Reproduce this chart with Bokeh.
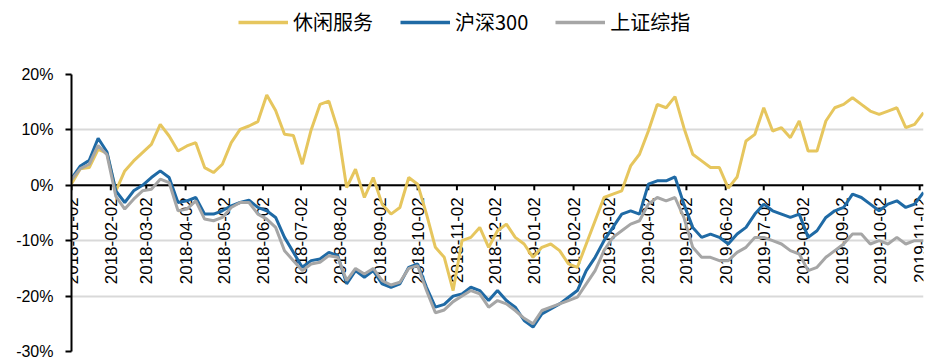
import numpy as np
import pandas as pd
from bokeh.plotting import figure
from bokeh.layouts import column
from bokeh.models import Range1d, Legend, LegendItem, Span, FixedTicker, PrintfTickFormatter
from bokeh.core.properties import value
from bokeh.embed import file_html
from bokeh.resources import INLINE

# weekly observation dates (2018-01-02 .. 2019-11-05)
dates = pd.date_range("2018-01-02", periods=97, freq="7D")

# cumulative return, %
leisure = [0.3, 3.0, 3.2, 6.5, 5.8, -1.0, 2.6, 4.4, 5.9, 7.4,
           11.0, 8.9, 6.2, 7.1, 7.7, 3.2, 2.3, 3.8, 7.7, 10.1,
           10.7, 11.5, 16.3, 13.5, 9.2, 9.0, 3.8, 10.0, 14.6, 15.2,
           10.1, -0.4, 2.9, -2.2, 1.4, -3.4, -5.2, -4.0, 1.4, 0.2,
           -5.2, -11.2, -13.0, -19.0, -10.0, -9.4, -7.6, -11.2, -8.2, -7.0,
           -9.4, -10.6, -13.0, -11.2, -10.6, -11.8, -14.2, -14.8, -10.6, -6.4,
           -2.2, -1.6, -1.0, 3.5, 5.6, 9.8, 14.6, 14.0, 16.0, 10.4,
           5.6, 4.4, 3.2, 3.2, -0.5, 1.5, 8.0, 9.2, 14.0, 9.8,
           10.4, 8.6, 11.6, 6.2, 6.2, 11.6, 14.0, 14.6, 15.8, 14.6,
           13.4, 12.8, 13.4, 14.0, 10.4, 11.0, 13.1]
hs300 = [1.2, 3.5, 4.5, 8.5, 6.0, -1.0, -3.1, -1.0, 0.0, 1.4,
         2.6, 1.4, -3.1, -2.8, -2.2, -5.2, -5.2, -4.6, -3.7, -3.1,
         -2.7, -4.0, -4.6, -5.8, -9.4, -12.1, -14.8, -13.6, -13.3, -12.1,
         -12.7, -17.8, -15.4, -16.6, -15.4, -17.8, -18.4, -17.8, -14.8, -14.2,
         -18.4, -22.0, -21.5, -20.0, -19.6, -18.4, -19.0, -20.8, -19.0, -20.8,
         -22.0, -24.4, -25.6, -23.2, -22.3, -21.4, -20.2, -19.0, -15.4, -13.0,
         -10.0, -7.6, -5.2, -4.6, -5.2, 0.2, 0.8, 0.8, 1.5, -3.4,
         -7.6, -9.4, -8.8, -9.4, -10.6, -8.8, -7.6, -5.2, -3.4, -4.6,
         -5.2, -5.8, -5.2, -9.4, -8.2, -5.8, -4.6, -4.0, -1.6, -2.2,
         -3.4, -4.6, -3.4, -2.8, -4.0, -3.4, -1.3]
szzs = [1.0, 3.0, 3.8, 7.2, 5.5, -2.0, -4.3, -2.5, -1.0, -0.7,
        1.1, 0.5, -4.6, -4.3, -2.8, -6.1, -6.4, -5.8, -4.0, -3.1,
        -3.1, -5.2, -6.1, -7.6, -11.8, -13.6, -15.4, -14.2, -13.9, -12.7,
        -13.0, -17.2, -15.0, -16.0, -15.0, -17.2, -18.0, -17.5, -15.0, -14.5,
        -19.0, -23.0, -22.5, -21.0, -20.0, -19.0, -19.6, -22.0, -20.8, -21.4,
        -22.6, -24.0, -25.0, -22.6, -22.0, -21.4, -20.8, -20.2, -17.8, -15.4,
        -11.8, -9.4, -8.2, -7.0, -6.4, -3.4, -2.2, -2.8, -2.2, -5.8,
        -11.2, -13.0, -13.0, -13.6, -13.6, -12.1, -11.2, -9.4, -9.4, -10.0,
        -10.6, -11.8, -12.4, -15.4, -14.8, -13.0, -11.8, -10.6, -8.8, -8.8,
        -10.6, -10.0, -10.6, -9.4, -10.6, -10.0, -10.0]

series_names = ["休闲服务", "沪深300", "上证综指"]
series_colors = ["#E6C65E", "#1F6AA5", "#A6A6A6"]

tick_labels = ["2018-01-02", "2018-02-02", "2018-03-02", "2018-04-02", "2018-05-02",
               "2018-06-02", "2018-07-02", "2018-08-02", "2018-09-02", "2018-10-02",
               "2018-11-02", "2018-12-02", "2019-01-02", "2019-02-02", "2019-03-02",
               "2019-04-02", "2019-05-02", "2019-06-02", "2019-07-02", "2019-08-02",
               "2019-09-02", "2019-10-02", "2019-11-02"]
y_ticks = [-30, -20, -10, 0, 10, 20]

# ---- legend strip on top (legend-only renderers kept outside the visible range) ----
top = figure(width=934, height=62, output_backend="svg", toolbar_location=None,
             x_range=Range1d(0, 1), y_range=Range1d(0, 1),
             min_border_left=0, min_border_right=0, min_border_top=0, min_border_bottom=0)
top.axis.visible = False
top.grid.visible = False
top.outline_line_color = None
dummy = [top.line(x=[5, 6], y=[5, 6], line_color=c, line_width=3.5) for c in series_colors]
legend = Legend(items=[LegendItem(label=n, renderers=[r]) for n, r in zip(series_names, dummy)],
                orientation="horizontal", location=(167, 26),
                label_text_font="Noto Sans CJK SC", label_text_font_size="20px",
                label_text_color="black",
                glyph_width=50, glyph_height=20, label_standoff=5, spacing=27,
                padding=0, margin=0, border_line_color=None, background_fill_alpha=0)
top.add_layout(legend)

# ---- main chart ----
p = figure(width=934, height=297, x_axis_type="datetime",
           output_backend="svg", toolbar_location=None,
           x_range=Range1d(dates[0], dates[-1]), y_range=Range1d(-30, 20),
           min_border_left=71, min_border_right=11, min_border_top=12, min_border_bottom=8)
p.outline_line_color = None
p.xaxis.visible = False
p.xgrid.visible = False

p.ygrid.ticker = FixedTicker(ticks=y_ticks)
p.ygrid.grid_line_color = "#D9D9D9"
p.ygrid.grid_line_width = 2

ya = p.yaxis[0]
ya.ticker = FixedTicker(ticks=y_ticks)
ya.formatter = PrintfTickFormatter(format="%d%%")
ya.axis_line_color = "black"
ya.axis_line_width = 2
ya.major_tick_line_color = "black"
ya.major_tick_line_width = 2
ya.major_tick_out = 6
ya.major_tick_in = 0
ya.minor_tick_out = 0
ya.minor_tick_in = 0
ya.major_label_standoff = 12
ya.major_label_text_font = "Liberation Sans"
ya.major_label_text_font_size = "16px"
ya.major_label_text_color = "black"

zero = Span(location=0, dimension="width", line_color="black", line_width=2, level="underlay")
p.add_layout(zero)

tick_dates = pd.to_datetime(tick_labels)
tick_len = 0.9  # downward tick length in % units (about 5 px)
p.segment(x0=tick_dates, y0=[0] * len(tick_dates), x1=tick_dates,
          y1=[-tick_len] * len(tick_dates), line_color="black", line_width=2)
p.text(x=tick_dates, y=[0] * len(tick_dates), text=tick_labels, angle=np.pi / 2,
       text_align="right", text_baseline="middle", y_offset=12,
       text_font=value("Liberation Sans"), text_font_size=value("17px"), text_color="black")

for vals, c in zip([leisure, hs300, szzs], series_colors):
    p.line(dates, vals, line_color=c, line_width=3)

layout = column(top, p, spacing=0)
open("out.html", "w").write(file_html(layout, INLINE))
